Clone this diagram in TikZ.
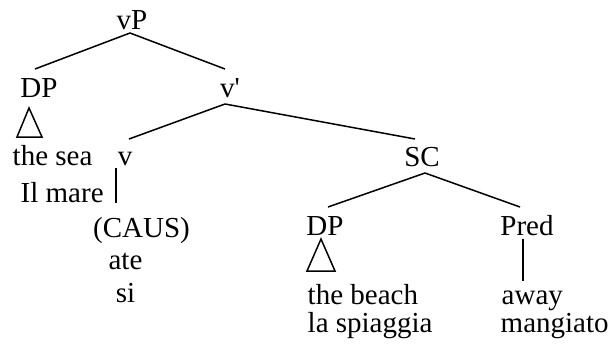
\documentclass[tikz,border=0pt]{standalone}
\usepackage{fontspec}
\setmainfont{Liberation Serif}[Ligatures=TeXOff]
\begin{document}
\begin{tikzpicture}[x=1pt,y=-1pt,
  lbl/.style={inner sep=0pt, anchor=base, font=\fontsize{29}{34}\selectfont},
  lblw/.style={lbl, anchor=base west},
  edge/.style={line width=1.5pt}]
\useasboundingbox (0,0) rectangle (613,346);
% labels
\node[lbl] (vP) at (132,29) {vP};
\node[lbl] (DP1) at (39,97) {DP};
\node[lbl] (vbar) at (230,97) {v'};
\node[lblw] (sea) at (12.5,165) {the sea};
\node[lbl] (v) at (125,165) {v};
\node[lblw] (mare) at (20.5,202) {Il mare};
\node[lbl] (caus) at (141.5,237) {(CAUS)};
\node[lbl] (ate) at (125.5,269) {ate};
\node[lbl] (si) at (125.5,302) {si};
\node[lbl] (SC) at (422,166) {SC};
\node[lbl] (DP2) at (325,235) {DP};
\node[lblw] (beach) at (307.5,304) {the beach};
\node[lblw] (spiaggia) at (307.5,332) {la spiaggia};
\node[lbl] (Pred) at (527,235) {Pred};
\node[lblw] (away) at (501.5,304) {away};
\node[lblw] (mangiato) at (500.5,332) {mangiato};
% branches
\draw[edge] ([xshift=-2pt,yshift=-4pt]vP.base) -- ([xshift=-4pt,yshift=28pt]DP1.base);
\draw[edge] ([xshift=-2pt,yshift=-4pt]vP.base) -- ([xshift=-5pt,yshift=28pt]vbar.base);
\draw[edge] ([xshift=-5pt,yshift=-7pt]vbar.base) -- ([xshift=4pt,yshift=26pt]v.base);
\draw[edge] ([xshift=-5pt,yshift=-7pt]vbar.base) -- ([xshift=-7pt,yshift=27pt]SC.base);
\draw[edge] ([xshift=3pt,yshift=-7pt]SC.base) -- ([xshift=3pt,yshift=28pt]DP2.base);
\draw[edge] ([xshift=3pt,yshift=-7pt]SC.base) -- ([xshift=-7pt,yshift=28pt]Pred.base);
\draw[edge] ([xshift=-9pt,yshift=-3pt]v.base) -- ([xshift=-25.5pt,yshift=34pt]caus.base);
\draw[edge] ([xshift=-4pt,yshift=-4pt]Pred.base) -- ([xshift=21.5pt,yshift=23pt]away.base west);
% triangles
\draw[edge] ([shift={(-10pt,-11pt)}]DP1.base) -- ([shift={(-22pt,-40pt)}]DP1.base) -- ([shift={(3pt,-40pt)}]DP1.base) -- cycle;
\draw[edge] ([shift={(-4pt,-4pt)}]DP2.base) -- ([shift={(-18pt,-36pt)}]DP2.base) -- ([shift={(10pt,-36pt)}]DP2.base) -- cycle;
\end{tikzpicture}
\end{document}
